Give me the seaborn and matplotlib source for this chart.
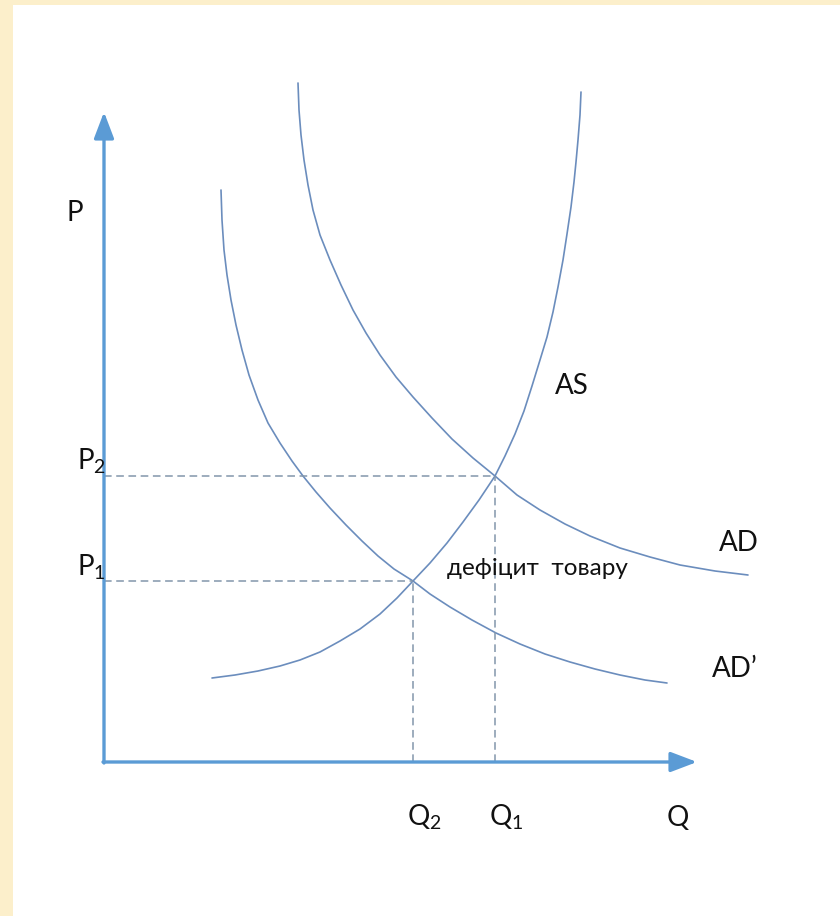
import matplotlib
matplotlib.use("Agg")
import matplotlib.pyplot as plt
import seaborn as sns
import pandas as pd

sns.set_style("white")
plt.rcParams["font.family"] = ["Lato", "DejaVu Sans"]
plt.rcParams["mathtext.fontset"] = "custom"
plt.rcParams["mathtext.rm"] = "Lato"
plt.rcParams["mathtext.it"] = "Lato"

# ---- data (quantity Q, price P) ----
as_q = [108, 131, 154, 176, 196, 216, 236, 256, 276, 293, 309, 326, 343, 359, 375,
        391, 401, 411, 420, 428, 436, 443, 449, 454, 459, 463, 467, 470, 472, 474, 476, 477]
as_p = [84, 87, 91, 96, 102, 110, 121, 133, 148, 164, 181, 199, 219, 240, 262,
        286, 306, 328, 351, 376, 402, 425, 450, 475, 502, 528, 555, 580, 600, 622, 647, 670]

ad_q = [194, 195, 197, 200, 204, 209, 216, 226, 237, 249, 262, 276, 292, 309, 328,
        348, 369, 391, 413, 436, 461, 486, 516, 546, 576, 611, 644]
ad_p = [679, 652, 627, 602, 577, 552, 527, 502, 477, 452, 429, 407, 385, 365, 344,
        323, 304, 286, 267, 252, 238, 226, 214, 205, 197, 191, 187]

ad2_q = [117, 118, 120, 123, 127, 132, 138, 145, 154, 164, 176, 188, 199, 212, 226,
         242, 258, 274, 290, 309, 326, 346, 368, 392, 416, 441, 466, 491, 516, 541, 563]
ad2_p = [572, 542, 512, 487, 462, 437, 412, 387, 362, 339, 319, 301, 286, 270, 254,
         237, 221, 206, 193, 181, 168, 155, 142, 129, 118, 108, 100, 93, 87, 82, 79]

q_levels = [309, 391]          # Q2, Q1
p_levels = [181, 286]          # P1, P2
q_labels = ["$\\mathrm{Q}_2$", "$\\mathrm{Q}_1$"]
p_labels = ["$\\mathrm{P}_1$", "$\\mathrm{P}_2$"]
axis_max = [593, 650]          # arrow tips (Q, P)
curve_labels = ["AS", "AD", "AD\u2019"]
deficit_text = "дефіцит  товару"

W, H = 840, 916
fig = plt.figure(figsize=(W / 100, H / 100), dpi=100, facecolor="#fcefcb")
ax = fig.add_axes([13 / W, 0, (W - 13) / W, (H - 5) / H])
ax.set_facecolor("white")

curve_color = "#6b8dbd"
frames = [
    pd.DataFrame({"Q": as_q, "P": as_p}),
    pd.DataFrame({"Q": ad_q, "P": ad_p}),
    pd.DataFrame({"Q": ad2_q, "P": ad2_p}),
]
for df in frames:
    sns.lineplot(data=df, x="Q", y="P", sort=False, ax=ax, color=curve_color,
                 lw=1.2, estimator=None)

# dashed guides
dash_color = "#8296ab"
for q, p in zip(q_levels, p_levels):
    ax.plot([0, q], [p, p], color=dash_color, lw=1.1, dashes=(5, 3))
    ax.plot([q, q], [0, p], color=dash_color, lw=1.1, dashes=(5, 3))

# axes with arrows
axis_color = "#5b9bd5"
arrow_style = "-|>,head_length=1.0,head_width=0.38"
ax.annotate("", xy=(0, axis_max[1]), xytext=(0, -1),
            arrowprops=dict(arrowstyle=arrow_style, color=axis_color, lw=2.4,
                            mutation_scale=16, shrinkA=0, shrinkB=0))
ax.annotate("", xy=(axis_max[0], 0), xytext=(-1, 0),
            arrowprops=dict(arrowstyle=arrow_style, color=axis_color, lw=2.4,
                            mutation_scale=16, shrinkA=0, shrinkB=0))

fs = 20
tc = "#111111"
ax.text(-29, 549, "P", fontsize=fs, color=tc, ha="center", va="center")
for p, lab in zip(p_levels, p_labels):
    ax.text(-27, p + 6, lab, fontsize=fs, color=tc, ha="left", va="baseline")
for q, lab in zip(q_levels, q_labels):
    ax.text(q - 6, -64, lab, fontsize=fs, color=tc, ha="left", va="baseline")
ax.text(563, -64, "Q", fontsize=fs, color=tc, ha="left", va="baseline")

ax.text(468, 376, curve_labels[0], fontsize=fs, color=tc, ha="center", va="center")
ax.text(635, 219, curve_labels[1], fontsize=fs, color=tc, ha="center", va="center")
ax.text(608, 93, curve_labels[2], fontsize=fs, color=tc, ha="left", va="center")
ax.text(343, 187, deficit_text, fontsize=17.5, color=tc, ha="left", va="baseline")

ax.set_xlim(13 - 104, W - 104)
ax.set_ylim(762 - H, 762 - 5)
for s in ax.spines.values():
    s.set_visible(False)
ax.set_xticks([])
ax.set_yticks([])
ax.set_xlabel("")
ax.set_ylabel("")

fig.savefig("out.png", dpi=100, facecolor=fig.get_facecolor())
